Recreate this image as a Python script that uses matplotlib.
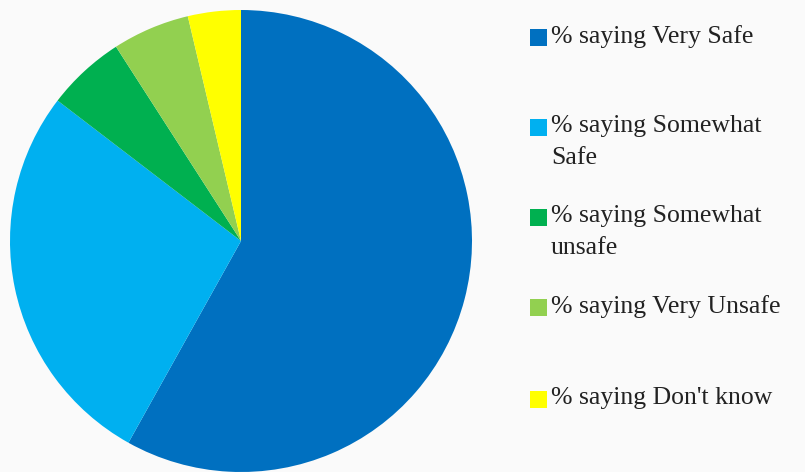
import matplotlib
matplotlib.use("Agg")
import matplotlib.pyplot as plt
from matplotlib.patches import Rectangle

labels = ["% saying Very Safe", "% saying Somewhat\nSafe", "% saying Somewhat\nunsafe",
          "% saying Very Unsafe", "% saying Don't know"]
values = [58.1, 27.3, 5.5, 5.4, 3.7]
colors = ["#0070C0", "#00B0F0", "#00B050", "#92D050", "#FFFF00"]

W, H = 805, 472
fig = plt.figure(figsize=(W / 100, H / 100), dpi=100, facecolor="#FAFAFA")
cx, cy, r = 241, 241, 231
ax = fig.add_axes([(cx - r) / W, (H - cy - r) / H, 2 * r / W, 2 * r / H])
ax.pie(values, colors=colors, startangle=90, counterclock=False, radius=1,
       wedgeprops=dict(linewidth=0))
ax.set_xlim(-1, 1)
ax.set_ylim(-1, 1)
ax.set_aspect("equal")
ax.axis("off")

# legend (manual layout)
ys = [38, 128, 218, 308, 400]
for lab, col, y in zip(labels, colors, ys):
    fig.patches.append(Rectangle(((530) / W, 1 - (y + 8) / H), 17 / W, 17 / H,
                                 transform=fig.transFigure, facecolor=col,
                                 edgecolor="none"))
    fig.text(551 / W, 1 - (y - 13) / H, lab, ha="left", va="top",
             fontsize=18.5, family="Liberation Serif", color="#222222",
             linespacing=1.6)

fig.savefig("out.png", dpi=100, facecolor=fig.get_facecolor())
